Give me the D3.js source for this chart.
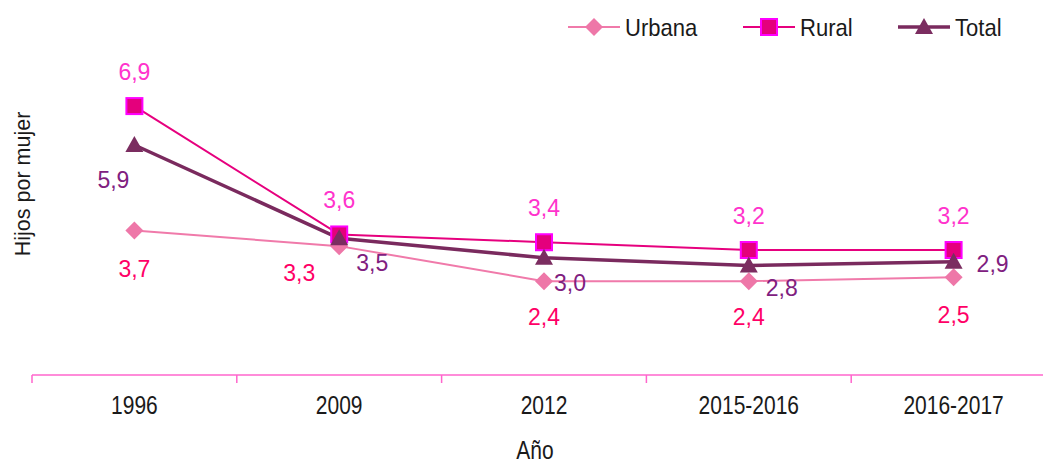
<!DOCTYPE html>
<html>
<head>
<meta charset="utf-8">
<script src="https://cdn.jsdelivr.net/npm/d3@7"></script>
<style>
  html, body { margin: 0; padding: 0; background: #ffffff; }
  svg { display: block; font-family: "Liberation Sans", Arial, sans-serif; }
</style>
</head>
<body>
<svg id="chart" width="1043" height="466"></svg>
<script>
const categories = ["1996", "2009", "2012", "2015-2016", "2016-2017"];
const urbana = [3.7, 3.3, 2.4, 2.4, 2.5];
const rural = [6.9, 3.6, 3.4, 3.2, 3.2];
const total = [5.9, 3.5, 3.0, 2.8, 2.9];
const seriesNames = ["Urbana", "Rural", "Total"];
const xTitle = "Año";
const yTitle = "Hijos por mujer";

const svg = d3.select("#chart");
const x = d3.scaleBand().domain(categories).range([32, 1056]).padding(0);
const y = d3.scaleLinear().domain([0, 8]).range([374.5, 63.3]);
const cx = c => x(c) + x.bandwidth() / 2;

const fmt = v => d3.format(".1f")(v).replace(".", ",");

// axis
const axisG = svg.append("g").attr("transform", "translate(0,375)")
  .call(d3.axisBottom(x).tickSize(8).tickSizeOuter(0).tickValues([]));
axisG.select(".domain").attr("stroke", "#ff66cc").attr("stroke-width", 1.5).attr("d", "M32,0H1056");
const bounds = categories.map(c => x(c));
axisG.selectAll("line.bt").data(bounds).join("line").attr("class", "bt")
  .attr("x1", d => d).attr("x2", d => d).attr("y1", 0).attr("y2", 8)
  .attr("stroke", "#ff66cc").attr("stroke-width", 1.5);

function stext(g, txt, px, py, size, sx, color, anchor) {
  return g.append("text")
    .attr("transform", `translate(${px},${py}) scale(${sx},1)`)
    .attr("text-anchor", anchor || "middle")
    .attr("font-size", size)
    .attr("fill", color)
    .text(txt);
}

// tick labels
categories.forEach(c => stext(svg, c, cx(c), 414, 25, 0.84, "#1a1a1a"));
// axis titles
stext(svg, xTitle, 535, 459, 25, 0.84, "#1a1a1a");
svg.append("text")
  .attr("transform", "translate(30,184) rotate(-90)")
  .attr("text-anchor", "middle").attr("font-size", 21.5).attr("fill", "#1a1a1a")
  .text(yTitle);

const series = [
  { name: seriesNames[0], values: urbana, line: "#f07aaa", fill: "#ee77a8", stroke: "#ee77a8", lw: 2, label: "#ff0066", shape: "diamond" },
  { name: seriesNames[1], values: rural, line: "#e6007e", fill: "#e4007c", stroke: "#ff00ff", lw: 2, label: "#ff33cc", shape: "square" },
  { name: seriesNames[2], values: total, line: "#7a2a5e", fill: "#7b2d60", stroke: "#7b2d60", lw: 3.5, label: "#80207f", shape: "triangle" }
];

function marker(g, shape, px, py, s) {
  if (shape === "diamond") {
    g.append("path").attr("d", `M${px},${py-9}L${px+9},${py}L${px},${py+9}L${px-9},${py}Z`)
      .attr("fill", s.fill);
  } else if (shape === "square") {
    g.append("rect").attr("x", px - 8).attr("y", py - 8).attr("width", 16).attr("height", 16)
      .attr("fill", s.fill).attr("stroke", s.stroke).attr("stroke-width", 2);
  } else {
    g.append("path").attr("d", `M${px},${py-9}L${px+9},${py+7}L${px-9},${py+7}Z`)
      .attr("fill", s.fill);
  }
}

const line = d3.line().x((d, i) => cx(categories[i])).y(d => y(d));
series.forEach(s => {
  svg.append("path").datum(s.values).attr("d", line)
    .attr("fill", "none").attr("stroke", s.line).attr("stroke-width", s.lw)
    .attr("stroke-linejoin", "round");
});
series.forEach(s => {
  const g = svg.append("g");
  s.values.forEach((v, i) => marker(g, s.shape, cx(categories[i]), y(v), s));
});

// labels (offsets are layout, not data)
const labelOffsets = {
  Urbana: [[0, 38], [-40, 27], [0, 36], [0, 36], [0, 38]],
  Rural: [[0, -34], [0, -34], [0, -34], [0, -34], [0, -34]],
  Total: [[-21, 35], [33, 25], [26, 25], [33, 22], [39, 2]]
};
series.forEach(s => {
  s.values.forEach((v, i) => {
    const o = labelOffsets[s.name][i];
    svg.append("text")
      .attr("x", cx(categories[i]) + o[0]).attr("y", y(v) + o[1] + 8)
      .attr("text-anchor", "middle").attr("font-size", 23).attr("fill", s.label)
      .text(fmt(v));
  });
});

// legend
const legendX = [568, 743, 898];
series.forEach((s, i) => {
  const g = svg.append("g");
  const lx = legendX[i], ly = 27;
  g.append("line").attr("x1", lx).attr("x2", lx + 52).attr("y1", ly).attr("y2", ly)
    .attr("stroke", s.line).attr("stroke-width", s.lw);
  marker(g, s.shape, lx + 26, ly, s);
  stext(g, s.name, lx + 57, ly + 8.5, 24, 0.92, "#1a1a1a", "start");
});
</script>
</body>
</html>
